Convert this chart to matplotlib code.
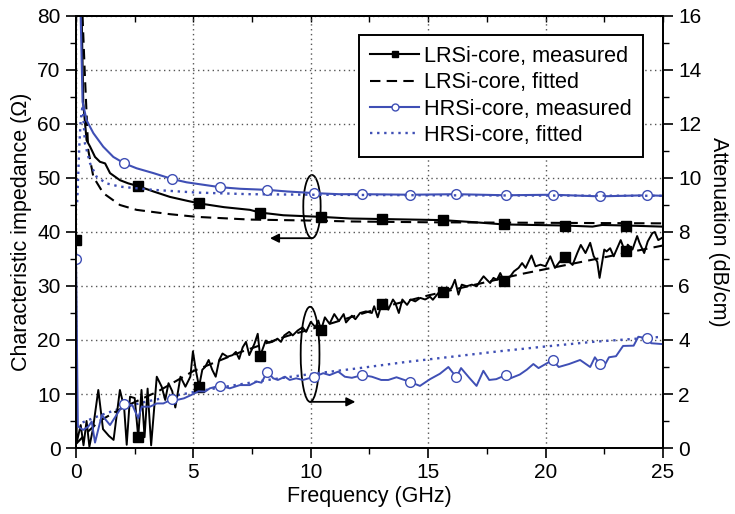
import numpy as np
import matplotlib
matplotlib.use('Agg')
import matplotlib.pyplot as plt
from matplotlib.patches import Ellipse
from matplotlib.ticker import MultipleLocator

plt.rcParams['font.family'] = ['Liberation Sans', 'DejaVu Sans']

BLUE = '#3f4fb5'

# ---- characteristic impedance (ohm) ----
lr_z_f = [0.12, 0.24, 0.31, 0.45, 0.6, 0.81, 1.02, 1.24, 1.45, 1.87, 2.23, 2.65,
          3.3, 4.0, 4.71, 5.24, 6.3, 7.41, 7.84, 8.83, 10.44, 11.67, 13.02,
          14.3, 15.62, 17.0, 18.22, 19.5, 20.83, 22.0, 22.4, 23.42, 24.95]
lr_z = [120, 80.2, 63.8, 57.0, 55.8, 53.9, 53.0, 52.7, 50.9, 49.6, 49.0, 48.5,
        47.5, 46.5, 45.8, 45.3, 44.6, 44.1, 43.6, 43.1, 42.8, 42.5, 42.4,
        42.3, 42.2, 41.8, 41.4, 41.3, 41.2, 41.0, 41.3, 41.2, 41.0]

lr_zfit_f = [0.15, 0.28, 0.38, 0.52, 0.74, 1.16, 1.87, 2.58, 4.0, 5.14, 7.41,
             10.25, 11.7, 15, 20, 25]
lr_zfit = [100, 79.9, 68.8, 55.2, 50.2, 47.2, 45.0, 44.1, 43.3, 42.8, 42.3,
           42.1, 41.95, 41.8, 41.7, 41.6]

hr_z_f = [0.15, 0.28, 0.45, 0.74, 1.16, 1.59, 2.06, 2.58, 3.3, 4.1, 4.71, 6.13,
          7.0, 8.15, 9.0, 10.15, 11.2, 12.2, 14.22, 16.2, 18.3, 20.3, 22.3,
          24.3, 25.0]
hr_z = [90, 64.1, 60.7, 58.3, 55.8, 53.9, 52.7, 51.8, 50.9, 49.8, 49.2, 48.3,
        48.0, 47.8, 47.5, 47.2, 47.0, 47.0, 46.9, 47.0, 46.8, 46.9, 46.6,
        46.8, 46.7]

hr_zfit_f = [0.05, 0.14, 0.2, 0.28, 0.38, 0.6, 0.88, 1.3, 1.87, 3.3, 5.14, 7.4,
             10, 15, 25]
hr_zfit = [45.5, 55.8, 60.7, 63.5, 56.4, 52.7, 50.2, 49.0, 48.4, 47.8, 47.3,
           47.0, 46.9, 46.8, 46.7]

# ---- attenuation (dB/cm) ----
lr_a_f = [0.0, 0.03, 0.2, 0.32, 0.45, 0.57, 0.72, 0.95, 1.15, 1.4, 1.6, 1.87,
          2.05, 2.16, 2.3, 2.5, 2.65, 2.79, 2.92, 3.05, 3.2, 3.44, 3.65, 3.8,
          3.94, 4.1, 4.23, 4.45, 4.66, 4.87, 4.98, 5.1, 5.24, 5.38, 5.5, 5.65,
          5.8, 5.95, 6.1, 6.24, 6.45, 6.67, 6.81, 6.95, 7.1, 7.24, 7.38, 7.6,
          7.74, 7.84, 8.08, 8.22, 8.36, 8.58, 8.73, 8.87, 9.08, 9.23, 9.44,
          9.65, 9.8, 10.0, 10.2, 10.32, 10.44, 10.6, 10.8, 11.0, 11.2, 11.4,
          11.5, 11.75, 11.9, 12.1, 12.35, 12.6, 12.7, 12.85, 13.02, 13.2, 13.3,
          13.5, 13.6, 13.75, 13.9, 14.1, 14.25, 14.45, 14.66, 14.87, 15.08,
          15.2, 15.43, 15.62, 15.86, 16.0, 16.14, 16.29, 16.43, 16.64, 16.86,
          17.07, 17.2, 17.36, 17.5, 17.64, 17.78, 17.93, 18.07, 18.22, 18.5,
          18.65, 18.85, 19.0, 19.15, 19.4, 19.57, 19.78, 20.0, 20.2, 20.4,
          20.6, 20.83, 21.0, 21.15, 21.35, 21.5, 21.7, 21.9, 22.05, 22.2, 22.3,
          22.5, 22.6, 22.75, 22.9, 23.05, 23.2, 23.3, 23.42, 23.5, 23.7, 23.9,
          24.0, 24.2, 24.35, 24.55, 24.65, 24.8, 24.95]
lr_a = [7.7, 0.2, 0.85, 0.1, 1.0, 0.05, 0.7, 2.15, 0.7, 0.45, 0.3, 2.15,
        1.5, 0.12, 1.9, 1.85, 0.4, 2.15, 0.4, 2.2, 0.1, 2.64, 2.27, 1.78,
        2.4, 2.1, 1.5, 2.64, 2.27, 2.64, 3.58, 2.9, 2.27, 2.9, 3.0, 3.26,
        2.9, 2.64, 3.26, 3.5, 3.38, 3.44, 3.56, 3.3, 3.73, 3.93, 3.44, 3.86,
        4.23, 3.4, 3.98, 3.9, 3.93, 4.05, 3.93, 4.17, 4.3, 4.17, 4.35,
        4.47, 4.3, 4.67, 4.47, 4.72, 4.37, 4.84, 4.6, 4.96, 4.7, 4.96,
        4.65, 4.9, 4.77, 5.0, 5.06, 5.0, 5.25, 4.84, 5.33, 5.5, 5.12,
        5.5, 5.37, 5.0, 5.5, 5.3, 5.5, 5.43, 5.56, 5.5, 5.6,
        5.49, 5.74, 5.76, 5.86, 5.93, 6.23, 5.68, 6.05, 5.99, 6.05,
        5.99, 6.17, 6.36, 6.23, 6.11, 6.3, 6.23, 6.48, 6.19, 6.36,
        6.54, 6.67, 6.85, 6.67, 7.13, 6.73, 6.79, 6.73, 7.1, 6.67,
        6.9, 7.09, 6.9, 6.78, 7.22, 7.52, 7.22, 7.6, 7.1, 6.9, 6.3,
        7.35, 7.28, 7.4, 7.1, 7.4, 7.7, 7.47, 7.28, 7.53, 7.35, 7.85,
        7.6, 7.22, 7.65, 7.96, 8.0, 7.7, 7.78]

lr_afit_f = [0, 0.5, 1, 2, 3.5, 5, 7, 9, 11, 13, 15, 17, 19, 21, 23, 25]
lr_afit = [0.15, 0.6, 1.0, 1.5, 2.1, 2.85, 3.55, 4.15, 4.65, 5.2, 5.65, 6.05,
           6.45, 6.8, 7.15, 7.5]

hr_a_f = [0.0, 0.08, 0.3, 0.52, 0.67, 0.81, 1.1, 1.45, 1.87, 2.06, 2.4, 2.65,
          2.8, 3.15, 3.44, 3.72, 4.1, 4.3, 4.6, 4.9, 5.21, 5.5, 5.7, 6.13,
          6.55, 6.98, 7.4, 7.7, 7.9, 8.15, 8.4, 8.6, 8.9, 9.1, 9.38, 9.67,
          10.15, 10.53, 10.8, 11.17, 11.45, 11.75, 12.2, 12.6, 13.0, 13.3,
          13.65, 14.22, 14.65, 15.08, 15.5, 15.86, 16.2, 16.4, 16.75, 17.06,
          17.35, 17.6, 17.9, 18.3, 18.5, 18.9, 19.2, 19.48, 19.7, 20.3, 20.56,
          21.0, 21.47, 21.9, 22.1, 22.3, 22.5, 22.7, 23.0, 23.3, 23.75, 23.95,
          24.3, 24.5, 24.95]
hr_a = [7.0, 0.8, 0.67, 0.79, 0.98, 0.2, 1.22, 0.85, 1.42, 1.62, 1.59, 1.1,
        1.53, 1.53, 1.65, 1.65, 1.81, 1.78, 1.84, 1.96, 2.1, 2.09, 2.21, 2.31,
        2.21, 2.33, 2.33, 2.46, 2.42, 2.83, 2.58, 2.52, 2.64, 2.52, 2.58, 2.52,
        2.64, 2.77, 2.7, 2.83, 2.64, 2.6, 2.7, 2.64, 2.52, 2.52,
        2.62, 2.45, 2.3, 2.55, 2.75, 3.0, 2.62, 2.96, 2.6, 2.3,
        2.86, 2.52, 2.55, 2.7, 2.58, 2.72, 2.9, 3.11, 2.96, 3.26, 3.0,
        3.11, 3.26, 3.0, 3.36, 3.12, 3.04, 3.36, 3.4, 3.78, 3.79, 4.12,
        4.07, 3.88, 3.85]

hr_afit_f = [0, 1, 2, 3, 4, 5, 6, 7, 8, 9, 10, 12, 14, 16, 18, 20, 22, 25]
hr_afit = [0.85, 1.2, 1.5, 1.72, 1.9, 2.07, 2.22, 2.36, 2.5, 2.62, 2.74, 2.95,
           3.18, 3.38, 3.58, 3.76, 3.93, 4.12]

# symbol positions along the measured traces
lr_marks = [0, 2.65, 5.24, 7.84, 10.44, 13.02, 15.62, 18.22, 20.83, 23.42]
hr_marks = [0, 2.06, 4.1, 6.13, 8.15, 10.15, 12.2, 14.22, 16.2, 18.3, 20.3,
            22.3, 24.3]


def mark_idx(freq, marks):
    freq = np.asarray(freq)
    return sorted({int(np.argmin(np.abs(freq - m))) for m in marks if m >= freq[0]})


fig = plt.figure(figsize=(7.35, 5.14), dpi=100)
ax = fig.add_axes([0.1034, 0.1284, 0.7986, 0.8405])
ax2 = ax.twinx()

sq = dict(marker='s', markersize=7, markerfacecolor='k', markeredgecolor='k')
ci = dict(marker='o', markersize=7, markerfacecolor='white',
          markeredgecolor=BLUE, markeredgewidth=1.0)

# impedance on left axis
l1, = ax.plot(lr_z_f, lr_z, color='k', lw=1.5,
              markevery=mark_idx(lr_z_f, lr_marks[1:]), **sq)
l2, = ax.plot(lr_zfit_f, lr_zfit, color='k', lw=1.5, ls=(0, (5, 3)))
l3, = ax.plot(hr_z_f, hr_z, color=BLUE, lw=1.5,
              markevery=mark_idx(hr_z_f, hr_marks[1:]), **ci)
l4, = ax.plot(hr_zfit_f, hr_zfit, color=BLUE, lw=1.7, ls=(0, (1, 2)))

# attenuation on right axis
ax2.plot(lr_afit_f, lr_afit, color='k', lw=1.5, ls=(0, (5, 3)))
ax2.plot(hr_afit_f, hr_afit, color=BLUE, lw=1.7, ls=(0, (1, 2)))
ax2.plot(lr_a_f, lr_a, color='k', lw=1.4,
         markevery=mark_idx(lr_a_f, lr_marks), **sq)
ax2.plot(hr_a_f, hr_a, color=BLUE, lw=1.4,
         markevery=mark_idx(hr_a_f, hr_marks), **ci)

ax.set_xlim(0, 25)
ax.set_ylim(0, 80)
ax2.set_ylim(0, 16)

ax.xaxis.set_major_locator(MultipleLocator(5))
ax.xaxis.set_minor_locator(MultipleLocator(2.5))
ax.yaxis.set_major_locator(MultipleLocator(10))
ax.yaxis.set_minor_locator(MultipleLocator(5))
ax2.yaxis.set_major_locator(MultipleLocator(2))
ax2.yaxis.set_minor_locator(MultipleLocator(1))

ax.grid(True, which='major', ls=(0, (1, 2.5)), color='#555555', lw=1.0)

for a in (ax, ax2):
    a.tick_params(which='major', direction='out', length=7, width=1.2,
                  labelsize=15, pad=4)
    a.tick_params(which='minor', direction='out', length=4, width=1.0)
    for s in a.spines.values():
        s.set_linewidth(1.3)

top = ax.secondary_xaxis('top')
top.xaxis.set_major_locator(MultipleLocator(5))
top.xaxis.set_minor_locator(MultipleLocator(2.5))
top.tick_params(which='both', direction='in', length=4, width=1.0,
                labeltop=False)
top.spines['top'].set_linewidth(1.3)

ax.set_xlabel('Frequency (GHz)', fontsize=15.5, labelpad=3)
ax.set_ylabel('Characteristic impedance (\u03a9)', fontsize=15.5, labelpad=4)
ax2.set_ylabel('Attenuation (dB/cm)', fontsize=15.5, rotation=270, labelpad=20)

# ellipses with arrows marking which axis each curve group belongs to
ax.add_patch(Ellipse((10.05, 44.7), 0.74, 11.7, fill=False, ec='k', lw=1.3))
ax.annotate('', xy=(8.26, 38.85), xytext=(10.05, 38.85),
            arrowprops=dict(arrowstyle='-|>', color='k', lw=1.3,
                            mutation_scale=13, shrinkA=0, shrinkB=0))
ax2.add_patch(Ellipse((9.97, 3.47), 0.8, 3.52, fill=False, ec='k', lw=1.3))
ax2.annotate('', xy=(11.9, 1.71), xytext=(9.97, 1.71),
             arrowprops=dict(arrowstyle='-|>', color='k', lw=1.3,
                             mutation_scale=13, shrinkA=0, shrinkB=0))

leg = ax2.legend([l1, l2, l3, l4],
                 ['LRSi-core, measured', 'LRSi-core, fitted',
                  'HRSi-core, measured', 'HRSi-core, fitted'],
                 loc='upper right', bbox_to_anchor=(0.966, 0.956),
                 borderaxespad=0, fontsize=15.6, numpoints=1,
                 handlelength=2.25, handletextpad=0.25, labelspacing=0.25,
                 borderpad=0.5, fancybox=False, framealpha=1, edgecolor='k')
leg.get_frame().set_linewidth(1.4)
for h in leg.legend_handles:
    h.set_markersize(5)

fig.savefig('out.png', dpi=100)
